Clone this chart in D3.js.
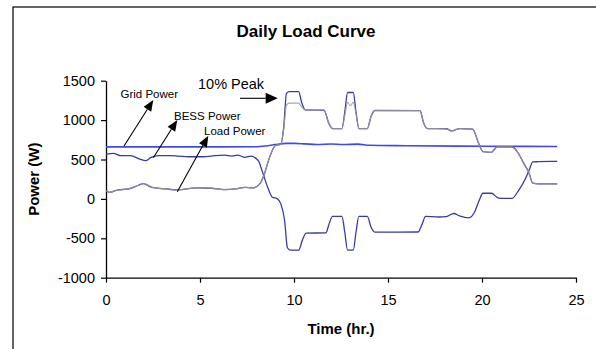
<!DOCTYPE html>
<html>
<head>
<meta charset="utf-8">
<script src="https://cdn.jsdelivr.net/npm/d3@7"></script>
<style>
  html, body { margin: 0; padding: 0; background: #fff; }
  svg { display: block; font-family: Arial, "Liberation Sans", sans-serif; }
</style>
</head>
<body>
<svg id="chart" width="596" height="349"></svg>
<script>
// ---- Data ----
const title = "Daily Load Curve";
const xLabel = "Time (hr.)";
const yLabel = "Power (W)";
const xTicks = [0, 5, 10, 15, 20, 25];
const yTicks = [-1000, -500, 0, 500, 1000, 1500];

// Load power (navy)
const loadTime  = [0, 0.2, 0.6, 1.2, 1.7, 2.0, 2.4, 3.2, 3.8, 4.8, 5.6, 6.3, 6.9, 7.4, 7.8, 8.2, 8.4, 8.7, 9.0, 9.3, 9.45, 9.6, 9.75, 10.25, 10.4, 10.6, 11.6, 11.85, 12.05, 12.55, 12.7, 12.85, 13.15, 13.3, 13.45, 13.9, 14.1, 14.3, 16.7, 16.9, 17.1, 18.1, 18.4, 18.8, 19.5, 19.8, 20.05, 20.5, 20.8, 21.6, 21.9, 22.2, 22.5, 22.7, 23.0, 24.0];
const loadPower = [105, 84, 112, 126, 170, 195, 150, 126, 114, 139, 135, 118, 126, 147, 139, 198, 300, 527, 674, 695, 900, 1340, 1362, 1362, 1230, 1130, 1125, 960, 893, 893, 1100, 1350, 1350, 1100, 893, 893, 1050, 1122, 1120, 960, 893, 890, 862, 893, 885, 720, 600, 590, 660, 662, 590, 460, 330, 200, 190, 190];

// Load power reference (grey) - equal to load except within the peaks
const greyTime  = [0, 0.2, 0.6, 1.2, 1.7, 2.0, 2.4, 3.2, 3.8, 4.8, 5.6, 6.3, 6.9, 7.4, 7.8, 8.2, 8.4, 8.7, 9.0, 9.3, 9.45, 9.6, 9.75, 10.25, 10.4, 10.6, 11.6, 11.85, 12.05, 12.55, 12.7, 12.85, 13.0, 13.15, 13.3, 13.45, 13.9, 14.1, 14.3, 16.7, 16.9, 17.1, 18.1, 18.4, 18.8, 19.5, 19.8, 20.05, 20.5, 20.8, 21.6, 21.9, 22.2, 22.5, 22.7, 23.0, 24.0];
const greyPower = [105, 84, 112, 126, 170, 195, 150, 126, 114, 139, 135, 118, 126, 147, 139, 198, 300, 527, 674, 695, 880, 1190, 1215, 1215, 1170, 1130, 1125, 960, 893, 893, 1060, 1225, 1185, 1225, 1080, 893, 893, 1050, 1122, 1120, 960, 893, 890, 862, 893, 885, 720, 600, 590, 660, 662, 590, 460, 330, 200, 190, 190];

// BESS power (navy)
const bessTime  = [0, 0.4, 0.8, 1.3, 1.8, 2.1, 2.4, 2.8, 3.4, 3.8, 4.4, 5.2, 5.6, 6.3, 6.7, 7.0, 7.4, 7.7, 8.1, 8.3, 8.6, 8.85, 9.1, 9.3, 9.5, 9.65, 9.8, 10.25, 10.45, 10.65, 11.7, 11.85, 12.05, 12.55, 12.7, 12.85, 13.15, 13.3, 13.45, 13.9, 14.1, 14.3, 16.6, 16.8, 17.0, 17.7, 18.1, 18.5, 18.8, 19.3, 19.6, 19.85, 20.05, 20.5, 20.8, 21.0, 21.6, 21.9, 22.3, 22.5, 22.7, 23.0, 24.0];
const bessPower = [569, 577, 548, 548, 506, 485, 527, 548, 548, 544, 535, 535, 544, 556, 544, 556, 527, 544, 485, 358, 147, 21, 4, -63, -274, -620, -650, -650, -520, -435, -430, -330, -222, -222, -420, -650, -650, -420, -222, -222, -360, -421, -420, -330, -222, -230, -225, -185, -215, -240, -170, -20, 72, 72, 20, 6, 6, 90, 253, 360, 470, 472, 476];

// Grid power (bright blue)
const gridTime  = [0, 4, 8, 8.5, 9.0, 9.6, 10.0, 10.6, 11.2, 12.0, 12.6, 13.4, 14.0, 16.0, 20.0, 24.0];
const gridPower = [660, 660, 662, 672, 690, 705, 705, 698, 690, 696, 690, 695, 680, 675, 668, 665];

// ---- Layout ----
const svg = d3.select("#chart");
const plot = { left: 106, right: 576, top: 80.7, bottom: 277.7 };
const FONT = "Arial, 'Liberation Sans', sans-serif";

// Chart frame (extends past the picture on the right and bottom)
svg.append("rect")
  .attr("x", 13).attr("y", 7).attr("width", 620).attr("height", 400)
  .attr("fill", "none").attr("stroke", "#111").attr("stroke-width", 1.3);

const x = d3.scaleLinear().domain([0, 25]).range([plot.left, plot.right]);
const y = d3.scaleLinear().domain([-1000, 1500]).range([plot.bottom, plot.top]);

// Axes (plain hyphen minus like the reference)
const fmt = d => String(d);
const xAxis = d3.axisBottom(x).tickValues(xTicks).tickSize(5).tickSizeOuter(0).tickPadding(12).tickFormat(fmt);
const yAxis = d3.axisLeft(y).tickValues(yTicks).tickSize(5).tickSizeOuter(0).tickPadding(6).tickFormat(fmt);

const gx = svg.append("g").attr("transform", `translate(0,${plot.bottom})`).call(xAxis);
const gy = svg.append("g").attr("transform", `translate(${plot.left},0)`).call(yAxis);
[gx, gy].forEach(g => {
  g.selectAll("path.domain").attr("stroke", "#000").attr("stroke-width", 1.3);
  g.selectAll(".tick line").attr("stroke", "#000").attr("stroke-width", 1.2);
  g.selectAll(".tick text").attr("fill", "#000")
    .style("font-family", FONT).style("font-size", "14.5px");
});

// Lines
const mk = (ts, vs) => ts.map((t, i) => ({ t, v: vs[i] }));
const line = d3.line().x(d => x(d.t)).y(d => y(d.v)).curve(d3.curveMonotoneX);

svg.append("path").datum(mk(gridTime, gridPower)).attr("d", line)
  .attr("fill", "none").attr("stroke", "#3f48e8").attr("stroke-width", 1.6);
svg.append("path").datum(mk(bessTime, bessPower)).attr("d", line)
  .attr("fill", "none").attr("stroke", "#3a3aa0").attr("stroke-width", 1.3);
svg.append("path").datum(mk(loadTime, loadPower)).attr("d", line)
  .attr("fill", "none").attr("stroke", "#3a3aa0").attr("stroke-width", 1.3);
svg.append("path").datum(mk(greyTime, greyPower)).attr("d", line)
  .attr("fill", "none").attr("stroke", "#9a9a9a").attr("stroke-width", 1.2).attr("stroke-opacity", 0.85);

// Title and axis labels
svg.append("text").attr("x", 306).attr("y", 36.5).attr("text-anchor", "middle")
  .style("font-size", "17px").style("font-weight", "bold").text(title);
svg.append("text").attr("x", (plot.left + plot.right) / 2).attr("y", 334).attr("text-anchor", "middle")
  .style("font-size", "15px").style("font-weight", "bold").text(xLabel);
svg.append("text").attr("transform", `translate(39,${(plot.top + plot.bottom) / 2}) rotate(-90)`)
  .attr("text-anchor", "middle").style("font-size", "15px").style("font-weight", "bold").text(yLabel);

// Annotations
const annotations = [
  { text: "Grid Power", tx: 120.5, ty: 98 },
  { text: "BESS Power", tx: 174, ty: 119.5 },
  { text: "Load Power", tx: 204, ty: 135 },
];
annotations.forEach(a => svg.append("text").attr("x", a.tx).attr("y", a.ty)
  .style("font-size", "11.5px").attr("fill", "#000").text(a.text));
svg.append("text").attr("x", 198).attr("y", 88.5).style("font-size", "14.5px").text("10% Peak");

function arrow(x1, y1, x2, y2, len, half) {
  const a = Math.atan2(y2 - y1, x2 - x1);
  const bx = x2 - len * Math.cos(a), by = y2 - len * Math.sin(a);
  svg.append("line").attr("x1", x1).attr("y1", y1).attr("x2", bx).attr("y2", by)
    .attr("stroke", "#000").attr("stroke-width", 1.1);
  const px = -Math.sin(a) * half, py = Math.cos(a) * half;
  svg.append("path")
    .attr("d", `M${x2},${y2}L${bx + px},${by + py}L${bx - px},${by - py}Z`)
    .attr("fill", "#000");
}
arrow(124, 146, 153.3, 100, 11, 4.5);
arrow(153.3, 157.7, 177.3, 120, 11, 4.5);
arrow(177.3, 191.7, 208.3, 135.7, 11, 4.5);
arrow(240, 98.3, 277.7, 98.3, 12, 5.5);
</script>
</body>
</html>
